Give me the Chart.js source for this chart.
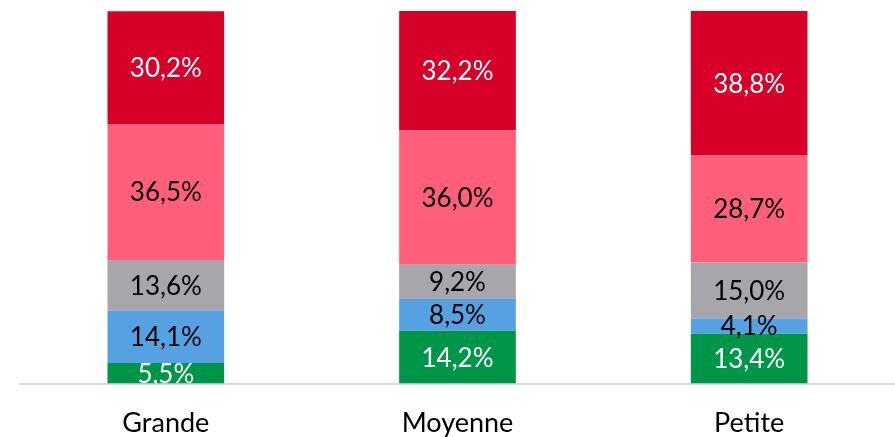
<!DOCTYPE html>
<html>
<head>
<meta charset="utf-8">
<script src="https://cdn.jsdelivr.net/npm/chart.js@4/dist/chart.umd.min.js"></script>
<style>
html,body{margin:0;padding:0;background:#fff;}
#wrap{width:895px;height:437px;position:relative;}
</style>
</head>
<body>
<div id="wrap"><canvas id="c" width="895" height="437"></canvas></div>
<script>
const categories = ['Grande', 'Moyenne', 'Petite'];
const seriesGreen = [5.5, 14.2, 13.4];
const seriesBlue = [14.1, 8.5, 4.1];
const seriesGray = [13.6, 9.2, 15.0];
const seriesPink = [36.5, 36.0, 28.7];
const seriesRed = [30.2, 32.2, 38.8];

const colors = {
  green: '#00964A',
  blue: '#56A1E1',
  gray: '#A6A6AB',
  pink: '#FF5F7B',
  red: '#D60029'
};
const labelColors = ['#ffffff', '#000000', '#000000', '#000000', '#ffffff'];

const fmt = v => v.toFixed(1).replace('.', ',') + '%';

const labelPlugin = {
  id: 'segLabels',
  afterDatasetsDraw(chart) {
    const ctx = chart.ctx;
    const area = chart.chartArea;
    ctx.save();
    ctx.beginPath();
    ctx.rect(area.left, area.top, area.right - area.left, area.bottom - area.top);
    ctx.clip();
    ctx.font = '26px Lato';
    ctx.textAlign = 'center';
    ctx.textBaseline = 'middle';
    chart.data.datasets.forEach((ds, di) => {
      const meta = chart.getDatasetMeta(di);
      meta.data.forEach((bar, i) => {
        const y = (bar.y + bar.base) / 2;
        ctx.fillStyle = labelColors[di];
        ctx.fillText(fmt(ds.data[i]), bar.x, y + 1);
      });
    });
    ctx.restore();
  }
};

new Chart(document.getElementById('c'), {
  type: 'bar',
  data: {
    labels: categories,
    datasets: [
      { data: seriesGreen, backgroundColor: colors.green },
      { data: seriesBlue, backgroundColor: colors.blue },
      { data: seriesGray, backgroundColor: colors.gray },
      { data: seriesPink, backgroundColor: colors.pink },
      { data: seriesRed, backgroundColor: colors.red }
    ].map(d => Object.assign(d, {
      borderWidth: 0,
      barPercentage: 0.4,
      categoryPercentage: 1.0
    }))
  },
  options: {
    responsive: false,
    animation: false,
    devicePixelRatio: 1,
    layout: { padding: { left: 20, right: 0, top: 11, bottom: -25 } },
    plugins: { legend: { display: false }, tooltip: { enabled: false } },
    scales: {
      x: {
        stacked: true,
        grid: { display: false, drawTicks: false },
        border: { display: true, color: '#D9D9D9', width: 2 },
        ticks: { color: '#000000', font: { family: 'Lato', size: 27 }, padding: 23 }
      },
      y: {
        stacked: true,
        display: false,
        min: 0,
        max: 100
      }
    }
  },
  plugins: [labelPlugin]
});
</script>
</body>
</html>
